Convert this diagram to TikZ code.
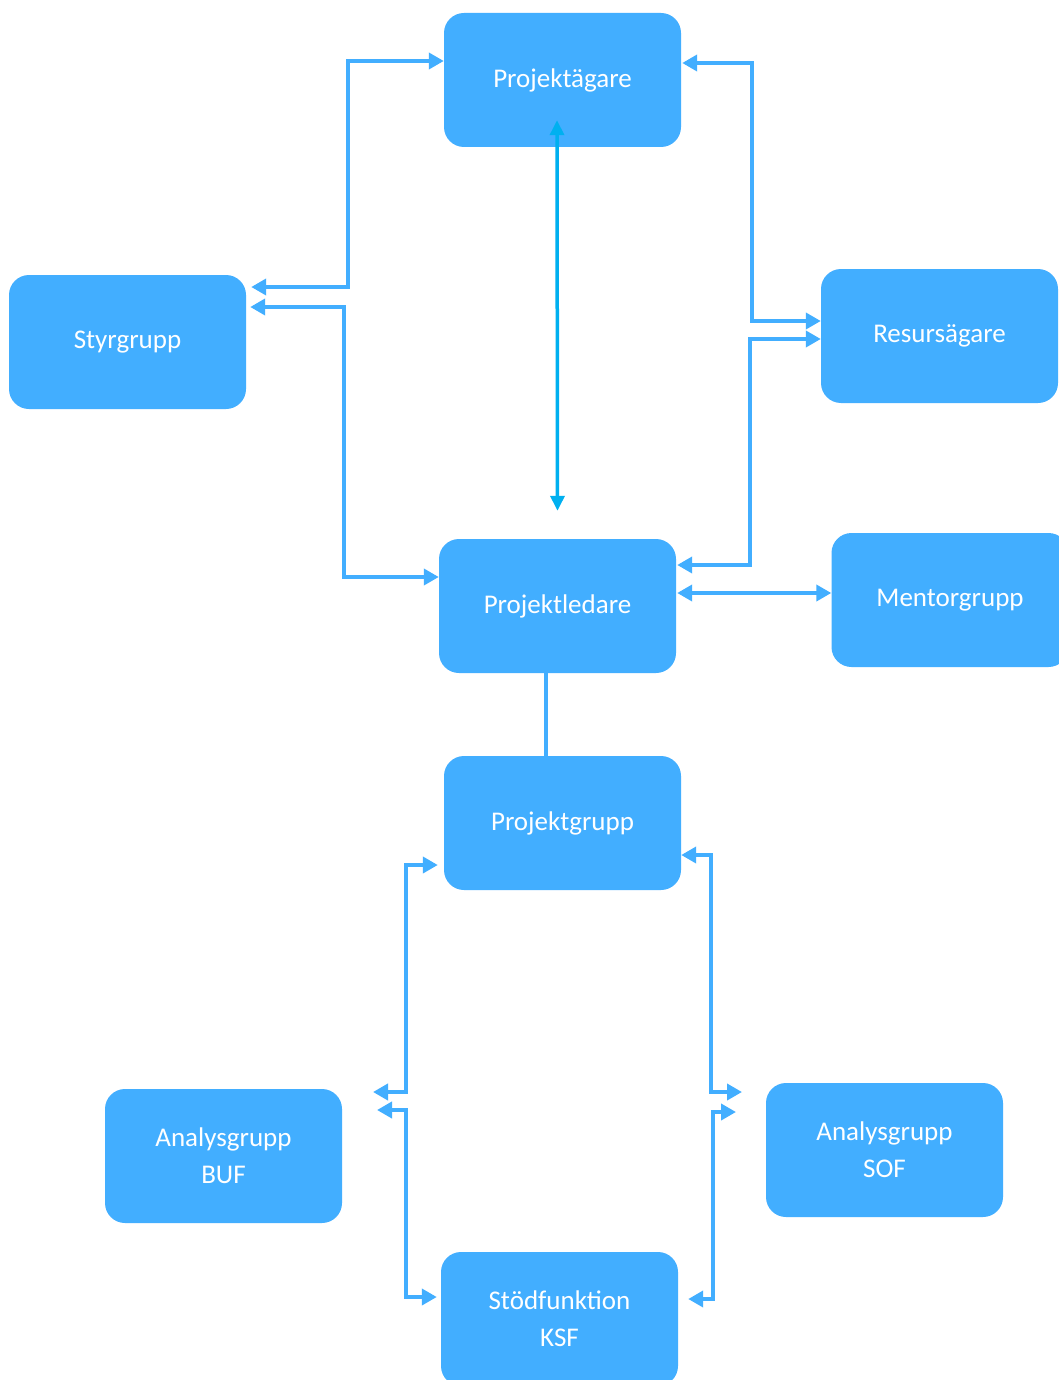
\documentclass[tikz,border=0pt]{standalone}
\usepackage{fontspec}
\setmainfont{Carlito}
\usetikzlibrary{arrows.meta}
\definecolor{boxblue}{RGB}{66,174,255}
\definecolor{midcyan}{RGB}{0,176,240}
\begin{document}
\begin{tikzpicture}[x=1pt,y=-1pt,
  box/.style={fill=boxblue,draw=none,rounded corners=20pt,minimum width=237pt,minimum height=134pt,
    text=white,font=\fontsize{27}{37}\selectfont,align=center,inner sep=0pt},
  bi/.style={draw=boxblue,line width=4pt,{Triangle[length=15pt,width=16pt]}-{Triangle[length=15pt,width=16pt]}},
  plain/.style={draw=boxblue,line width=4pt}]
\useasboundingbox (0,0) rectangle (1059,1380);
\fill[white] (0,0) rectangle (1059,1380);
\node[box] (pa)  at (562.5,80)  {Projektägare};
\node[box] (styr) at (127.5,342) {Styrgrupp};
\node[box] (res) at (939.5,336) {Resursägare};
\node[box] (pl)  at (557.5,606) {Projektledare};
\node[box] (men) at (950,600)   {Mentorgrupp};
\node[box] (pg)  at (562.5,823) {Projektgrupp};
\node[box] (buf) at (223.5,1156) {Analysgrupp\\BUF};
\node[box] (sof) at (884.5,1150) {Analysgrupp\\SOF};
\node[box] (ksf) at (559.5,1319) {Stödfunktion\\KSF};
\coordinate (buf1) at (373,1092);
\coordinate (buf2) at (377,1110);
\coordinate (sof1) at (742,1092);
\coordinate (sof2) at (736,1112);
% Styrgrupp <-> Projektägare
\draw[bi] ([xshift=5pt,yshift=55pt]styr.east) -- ++(97,0) |- ([yshift=19pt]pa.west);
% Styrgrupp <-> Projektledare
\draw[bi] ([xshift=4pt,yshift=35pt]styr.east) -- ++(94,0) |- ([yshift=29pt]pl.west);
% Projektägare <-> Resursägare
\draw[bi] ([xshift=1pt,yshift=17pt]pa.east) -- ++(70,0) |- ([yshift=15pt]res.west);
% Resursägare <-> Projektledare
\draw[bi] ([yshift=-3pt]res.west) -- ++(-71,0) |- ([xshift=1pt,yshift=41pt]pl.east);
% Projektledare <-> Mentorgrupp
\draw[bi] ([xshift=1pt,yshift=13pt]pl.east) -- ([yshift=13pt]pl.east -| men.west);
% Projektägare <-> Projektledare
\draw[draw=midcyan,line width=3.5pt,{Triangle[length=15pt,width=14pt]}-{Triangle[length=15pt,width=14pt]}]
  ([xshift=-5.5pt,yshift=27pt]pa.south) -- ([yshift=28pt]pl.north);
% Projektledare - Projektgrupp
\draw[plain] ([xshift=-11.5pt]pl.south) -- ([xshift=-11.5pt]pl.south |- pg.north);
% Projektgrupp <-> Analysgrupp BUF
\draw[bi] ([xshift=-6pt,yshift=-42pt]pg.west) -- ++(-32,0) |- (buf1);
% Analysgrupp BUF <-> Stödfunktion
\draw[bi] (buf2) -- ++(29,0) |- ([xshift=-4pt,yshift=22pt]ksf.west);
% Projektgrupp <-> Analysgrupp SOF
\draw[bi] ([yshift=-32pt]pg.east) -- ++(30,0) |- (sof1);
% Analysgrupp SOF <-> Stödfunktion
\draw[bi] (sof2) -- ++(-23,0) |- ([xshift=10pt,yshift=20pt]ksf.east);
\end{tikzpicture}
\end{document}
